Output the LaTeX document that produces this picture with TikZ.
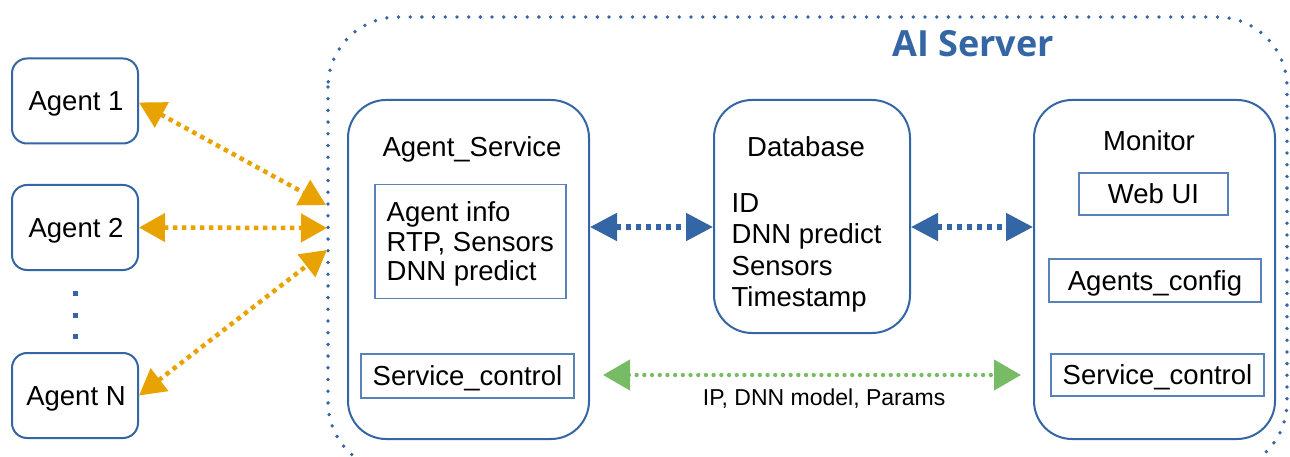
\documentclass[tikz,border=0pt]{standalone}
\usepackage{fontspec}
\setmainfont{Liberation Sans}
\newfontfamily\titlefont{Open Sans}
\usetikzlibrary{arrows.meta,calc}

\definecolor{srvblue}{HTML}{3465A4}
\definecolor{boxline}{HTML}{5B82B8}
\definecolor{linkorange}{HTML}{E8A202}
\definecolor{linkgreen}{HTML}{77BC65}

\tikzset{
  bodyfont/.style={font=\fontsize{27.5}{31}\selectfont},
  capcentered/.style={text height=19.7pt, text depth=0pt},
  agentbox/.style={draw=srvblue, line width=2pt, rounded corners=15pt,
    minimum width=126pt, minimum height=85pt, inner sep=0pt, bodyfont, capcentered},
  bigbox/.style={draw=srvblue, line width=2pt, rounded corners=38pt, inner sep=0pt},
  inbox/.style={draw=boxline, line width=1.3pt, inner sep=0pt, bodyfont, capcentered},
  titletext/.style={inner sep=0pt, bodyfont, capcentered},
  bluelink/.style={draw=srvblue, line width=5pt, dash pattern=on 5pt off 5pt,
    {Triangle[length=27pt,width=27pt]}-{Triangle[length=27pt,width=27pt]}},
  orangelink/.style={draw=linkorange, line width=4.5pt, dash pattern=on 4.5pt off 4.5pt,
    {Triangle[length=26pt,width=28pt]}-{Triangle[length=26pt,width=28pt]}},
  greenlink/.style={draw=linkgreen, line width=4.3pt, line cap=round,
    dash pattern=on 0pt off 7.7pt,
    {Triangle[length=27pt,width=30pt,line cap=butt]}-{Triangle[length=27pt,width=30pt,line cap=butt]}}
}

\begin{document}
\begin{tikzpicture}[x=1pt,y=-1pt]
\useasboundingbox (0,0) rectangle (1290,457);
\clip (0,0) rectangle (1290,457);

% AI server enclosure
\draw[srvblue, line width=3.8pt, line cap=round, dash pattern=on 0pt off 11.7pt,
      rounded corners=70pt] (328,17) rectangle (1287,472);
\node[font=\titlefont\bfseries\fontsize{36}{40}\selectfont, text=srvblue, inner sep=0pt]
  (title) at (973,44) {AI Server};

% agents
\node[agentbox] (a1) at (75,101) {\hspace*{2pt}Agent 1};
\node[agentbox] (a2) at (75,227.5) {\hspace*{2pt}Agent 2};
\node[agentbox] (aN) at (75,395.5) {\hspace*{2pt}Agent N};
\foreach \y in {293,315,336}
  \fill[srvblue] (72.5,\y-2.5) rectangle (77.5,\y+2.5);

% server components
\node[bigbox, minimum width=241pt, minimum height=339pt] (as) at (468.5,269.5) {};
\node[bigbox, minimum width=196pt, minimum height=233pt] (db) at (812,216.5) {};
\node[bigbox, minimum width=241pt, minimum height=339pt] (mon) at (1154.5,269.5) {};

% Agent_Service content
\node[titletext] (astitle) at (472,146.5) {Agent\_Service};
\node[inbox, minimum width=191pt, minimum height=114pt] (asinfo) at (470.5,241.5) {};
\node[inner sep=0pt, anchor=west, align=left, font=\fontsize{27.5}{29.3}\selectfont]
  (asinfotext) at (386.5,244) {Agent info\\RTP, Sensors\\DNN predict};
\node[inbox, minimum width=213pt, minimum height=44pt] (asctl) at (467.5,376) {Service\_control};

% Database content
\node[titletext] (dbtitle) at (806,147) {Database};
\node[inner sep=0pt, anchor=west, align=left, font=\fontsize{27.5}{31.3}\selectfont]
  (dbfields) at (731.5,253) {ID\\DNN predict\\Sensors\\Timestamp};

% Monitor content
\node[titletext] (montitle) at (1149,140.5) {Monitor};
\node[inbox, minimum width=149pt, minimum height=42pt] (webui) at (1153.5,194) {Web UI};
\node[inbox, minimum width=212pt, minimum height=43pt] (agcfg) at (1155,280.5) {Agents\_config};
\node[inbox, minimum width=213pt, minimum height=42pt] (monctl) at (1157.5,375) {Service\_control};

% agent links into the server
\coordinate (h1) at (326,205);
\coordinate (h2) at (327,228);
\coordinate (h3) at (327,250);
\draw[orangelink] ([yshift=-1.5pt]a1.east) -- (h1);
\draw[orangelink] (a2.east) -- (h2);
\draw[orangelink] (aN.east) -- (h3);

% internal links
\draw[bluelink] (as.east |- 0,227) -- (db.west |- 0,227);
\draw[bluelink] (db.east |- 0,227) -- (mon.west |- 0,227);
\draw[greenlink] ([xshift=13pt]as.east |- 0,375) -- ([xshift=-12pt]mon.west |- 0,375)
  node[pos=0.529, below=12pt, inner sep=0pt, font=\fontsize{23}{26}\selectfont,
       text height=16.5pt, text depth=0pt] (ctrl)
  {IP, DNN model, Params};
\end{tikzpicture}
\end{document}
